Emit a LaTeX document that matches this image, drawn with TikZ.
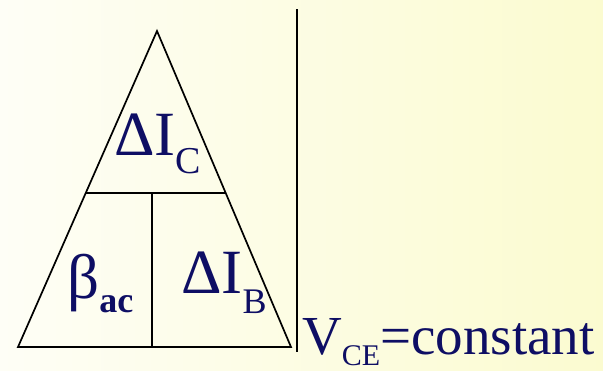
\documentclass[tikz,border=0pt]{standalone}
\usepackage{fontspec}
\setmainfont{Liberation Serif}
\usetikzlibrary{calc}
\definecolor{ink}{RGB}{14,14,100}
\definecolor{bgl}{RGB}{254,254,246}
\definecolor{bgr}{RGB}{251,251,208}
\begin{document}
\begin{tikzpicture}[x=1pt,y=-1pt,
  edge/.style={line width=1.7pt, black},
  lbl/.style={inner sep=0pt, text=ink, anchor=base west, font=\rmfamily\fontsize{63}{63}\selectfont},
  note/.style={inner sep=0pt, text=ink, anchor=base west, font=\rmfamily\fontsize{55}{55}\selectfont}]
\shade[left color=bgl, right color=bgr] (0,0) rectangle (603,370);
\useasboundingbox (0,0) rectangle (603,370);
\coordinate (A) at (157,31);
\coordinate (L) at (18,347);
\coordinate (R) at (291,347);
\coordinate (HL) at ($(A)!0.5127!(L)$);
\coordinate (HR) at ($(A)!0.5127!(R)$);
\coordinate (VT) at (152,193);
\coordinate (VB) at (152,348);
\coordinate (ST) at (297,9);
\coordinate (SB) at (297,352);
\draw[edge] (A) -- (L) -- (R) -- cycle;
\draw[edge] (HL) -- (HR);
\draw[edge] (VT) -- (VB);
\draw[edge] (ST) -- (SB);
\node[lbl] (ic) at (114,155) {ΔI\raisebox{-18pt}{\fontsize{38}{38}\selectfont C}};
\node[lbl] (beta) at (67,298) {β\raisebox{-14pt}{\fontsize{36}{36}\selectfont\bfseries ac}};
\node[lbl] (ib) at (181,293) {ΔI\raisebox{-20pt}{\fontsize{36}{36}\selectfont B}};
\node[note] (vce) at (302,354) {V\raisebox{-11pt}{\fontsize{30}{30}\selectfont CE}=constant};
\end{tikzpicture}
\end{document}
